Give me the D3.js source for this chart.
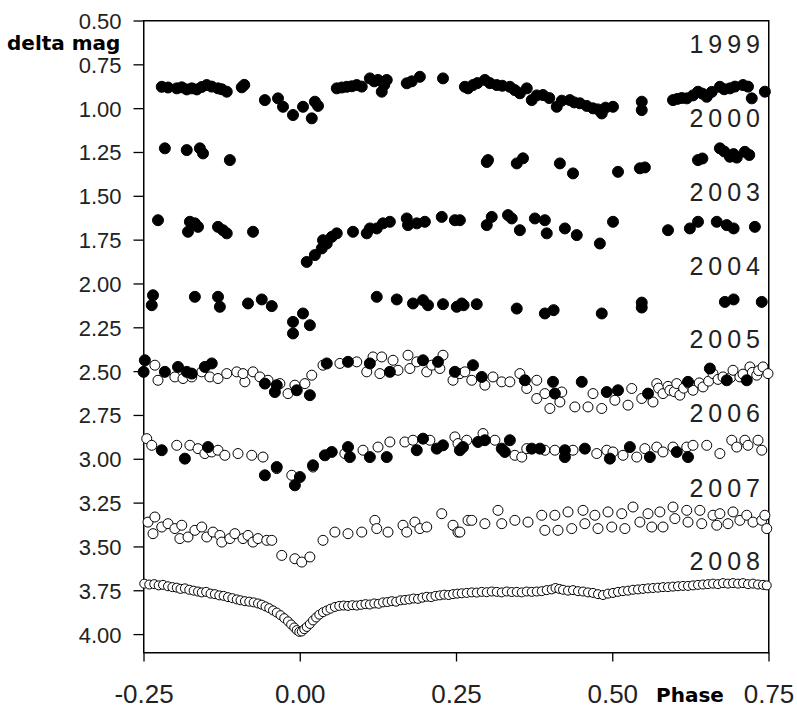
<!DOCTYPE html>
<html>
<head>
<meta charset="utf-8">
<script src="https://cdn.jsdelivr.net/npm/d3@7"></script>
<style>
  body { margin: 0; background: #fff; }
  svg { display: block; }
  .tick-y { font-family: "Liberation Sans", Arial, sans-serif; font-size: 22px; fill: #222; }
  .tick-x { font-family: "Liberation Sans", Arial, sans-serif; font-size: 26px; fill: #222; }
  .axis-title { font-family: "DejaVu Sans", Verdana, sans-serif; font-size: 20px; font-weight: bold; fill: #000; }
  .year { font-family: "Liberation Sans", Arial, sans-serif; font-size: 25px; letter-spacing: 5px; fill: #222; }
</style>
</head>
<body>
<div id="chart"></div>
<script>
// tick values and labels
let phaseTicks = [-0.25, 0, 0.25, 0.5, 0.75];
let magTicks = [0.5, 0.75, 1.0, 1.25, 1.5, 1.75, 2.0, 2.25, 2.5, 2.75, 3.0, 3.25, 3.5, 3.75, 4.0];
let years = ["1999", "2000", "2003", "2004", "2005", "2006", "2007", "2008"];
let yearLabelMag = [0.69, 1.11, 1.53, 1.955, 2.37, 2.795, 3.22, 3.64];

// [phase, delta mag]
let filled1999 = [[-0.220,0.881],[-0.210,0.885],[-0.196,0.890],[-0.188,0.884],[-0.180,0.896],[-0.172,0.890],[-0.164,0.896],[-0.156,0.882],
  [-0.148,0.871],[-0.140,0.880],[-0.130,0.890],[-0.124,0.895],[-0.116,0.909],[-0.092,0.884],[-0.088,0.870],[-0.055,0.957],[-0.034,0.947],
  [-0.026,0.995],[-0.010,1.042],[0.006,0.995],[0.020,1.061],[0.025,0.966],[0.030,0.990],[0.060,0.890],[0.068,0.885],[0.076,0.881],
  [0.084,0.878],[0.092,0.871],[0.100,0.880],[0.113,0.833],[0.120,0.850],[0.126,0.842],[0.132,0.909],[0.136,0.870],[0.140,0.842],
  [0.172,0.861],[0.180,0.850],[0.193,0.824],[0.230,0.833],[0.265,0.881],[0.270,0.890],[0.278,0.871],[0.285,0.860],[0.297,0.842],
  [0.305,0.860],[0.316,0.871],[0.325,0.875],[0.337,0.881],[0.345,0.900],[0.353,0.918],[0.364,0.890],[0.372,0.957],[0.380,0.930],
  [0.390,0.928],[0.400,0.945],[0.412,0.995],[0.420,0.960],[0.433,0.957],[0.440,0.970],[0.449,0.975],[0.460,0.990],[0.470,1.004],
  [0.478,1.010],[0.484,1.033],[0.490,1.000],[0.502,0.995],[0.548,0.966],[0.548,1.014],[0.598,0.957],[0.605,0.950],[0.612,0.945],
  [0.620,0.947],[0.630,0.930],[0.638,0.909],[0.645,0.920],[0.652,0.938],[0.660,0.910],[0.673,0.881],[0.680,0.895],[0.689,0.890],
  [0.697,0.880],[0.710,0.871],[0.718,0.880],[0.724,0.947],[0.745,0.909]];

let filled2000 = [[-0.215,1.232],[-0.180,1.242],[-0.159,1.232],[-0.154,1.261],[-0.111,1.299],[0.300,1.310],[0.302,1.299],[0.348,1.318],
  [0.358,1.289],[0.417,1.318],[0.438,1.375],[0.510,1.366],[0.545,1.346],[0.553,1.341],[0.638,1.299],[0.645,1.290],[0.673,1.232],
  [0.680,1.250],[0.689,1.280],[0.695,1.265],[0.700,1.285],[0.713,1.252],[0.720,1.270]];

let filled2003 = [[-0.226,1.642],[-0.178,1.708],[-0.175,1.651],[-0.167,1.660],[-0.162,1.680],[-0.130,1.680],[-0.122,1.699],[-0.116,1.717],
  [-0.074,1.708],[0.012,1.880],[0.025,1.841],[0.036,1.803],[0.038,1.756],[0.044,1.775],[0.052,1.737],[0.060,1.717],[0.086,1.708],
  [0.108,1.717],[0.113,1.689],[0.124,1.689],[0.134,1.660],[0.145,1.651],[0.172,1.632],[0.174,1.670],[0.188,1.660],[0.201,1.651],
  [0.228,1.623],[0.249,1.642],[0.257,1.642],[0.300,1.670],[0.308,1.623],[0.334,1.613],[0.340,1.632],[0.353,1.699],[0.377,1.632],
  [0.393,1.642],[0.396,1.717],[0.425,1.689],[0.444,1.727],[0.481,1.775],[0.502,1.651],[0.590,1.699],[0.625,1.689],[0.638,1.651],
  [0.668,1.651],[0.684,1.670],[0.695,1.689],[0.729,1.680]];

let filled2004 = [[-0.234,2.070],[-0.236,2.127],[-0.167,2.079],[-0.130,2.079],[-0.127,2.136],[-0.082,2.117],[-0.060,2.094],[-0.044,2.132],
  [-0.010,2.288],[-0.010,2.222],[0.006,2.174],[0.017,2.241],[0.124,2.079],[0.156,2.094],[0.182,2.117],[0.198,2.098],[0.206,2.127],
  [0.230,2.121],[0.252,2.136],[0.260,2.117],[0.263,2.127],[0.284,2.121],[0.348,2.146],[0.393,2.174],[0.407,2.155],[0.484,2.174],
  [0.548,2.112],[0.548,2.140],[0.681,2.108],[0.695,2.094],[0.740,2.108]];

let filled2005 = [[-0.247,2.441],[-0.249,2.507],[-0.215,2.507],[-0.194,2.479],[-0.180,2.507],[-0.172,2.517],[-0.151,2.479],[-0.140,2.459],
  [-0.055,2.574],[-0.039,2.622],[-0.036,2.583],[-0.004,2.612],[0.017,2.640],[0.044,2.459],[0.078,2.450],[0.113,2.459],[0.145,2.507],
  [0.198,2.441],[0.222,2.450],[0.249,2.507],[0.278,2.469],[0.292,2.536],[0.361,2.555],[0.406,2.564],[0.409,2.631],[0.452,2.564],
  [0.492,2.622],[0.510,2.612],[0.558,2.631],[0.622,2.564],[0.657,2.488],[0.684,2.555],[0.716,2.555]];

let open2005 = [[-0.231,2.469],[-0.226,2.555],[-0.199,2.536],[-0.186,2.545],[-0.172,2.536],[-0.156,2.507],[-0.143,2.536],[-0.130,2.545],
  [-0.116,2.517],[-0.100,2.507],[-0.087,2.564],[-0.090,2.517],[-0.074,2.507],[-0.063,2.536],[-0.050,2.555],[-0.031,2.574],[-0.018,2.631],
  [-0.007,2.583],[0.009,2.574],[0.020,2.526],[0.038,2.469],[0.065,2.459],[0.092,2.450],[0.108,2.507],[0.118,2.422],[0.129,2.517],
  [0.132,2.422],[0.150,2.441],[0.158,2.498],[0.174,2.412],[0.177,2.488],[0.188,2.450],[0.204,2.507],[0.212,2.469],[0.225,2.488],
  [0.230,2.412],[0.246,2.555],[0.257,2.517],[0.265,2.507],[0.276,2.555],[0.297,2.583],[0.310,2.536],[0.324,2.564],[0.337,2.564],
  [0.353,2.517],[0.364,2.602],[0.380,2.555],[0.380,2.659],[0.393,2.631],[0.401,2.716],[0.417,2.679],[0.420,2.622],[0.441,2.707],
  [0.462,2.707],[0.470,2.631],[0.484,2.716],[0.505,2.669],[0.526,2.697],[0.532,2.602],[0.548,2.659],[0.566,2.679],[0.572,2.574],
  [0.575,2.600],[0.582,2.631],[0.590,2.590],[0.593,2.612],[0.600,2.620],[0.604,2.574],[0.609,2.640],[0.615,2.600],[0.625,2.580],
  [0.630,2.612],[0.640,2.570],[0.646,2.593],[0.655,2.560],[0.662,2.517],[0.670,2.550],[0.678,2.536],[0.690,2.540],[0.694,2.498],
  [0.705,2.536],[0.710,2.520],[0.721,2.479],[0.725,2.510],[0.732,2.526],[0.735,2.500],[0.742,2.479],[0.750,2.517]];

let filled2006 = [[-0.220,2.954],[-0.183,3.002],[-0.146,2.936],[-0.055,3.097],[-0.036,3.050],[-0.007,3.154],[0.001,3.107],[0.022,3.040],
  [0.041,2.983],[0.052,2.964],[0.078,2.936],[0.081,2.993],[0.113,2.993],[0.140,2.993],[0.188,2.954],[0.198,2.888],[0.220,2.945],
  [0.230,2.926],[0.257,2.954],[0.262,2.936],[0.286,2.907],[0.297,2.897],[0.324,2.945],[0.337,2.897],[0.329,2.964],[0.372,2.945],
  [0.385,2.945],[0.425,2.954],[0.425,2.993],[0.457,2.945],[0.497,3.002],[0.529,2.936],[0.561,2.993],[0.604,2.964],[0.622,2.993]];

let open2006 = [[-0.244,2.888],[-0.236,2.926],[-0.196,2.926],[-0.175,2.926],[-0.162,2.945],[-0.151,2.973],[-0.140,2.964],[-0.130,2.954],
  [-0.119,2.983],[-0.098,2.973],[-0.076,2.983],[-0.058,2.993],[-0.036,3.059],[-0.012,3.097],[0.022,3.050],[0.073,2.973],[0.102,2.954],
  [0.126,2.936],[0.145,2.907],[0.169,2.907],[0.182,2.897],[0.209,2.897],[0.249,2.878],[0.254,2.916],[0.268,2.897],[0.294,2.859],
  [0.313,2.897],[0.345,2.983],[0.356,2.993],[0.364,2.945],[0.393,2.954],[0.409,2.954],[0.438,2.954],[0.476,2.973],[0.492,2.954],
  [0.502,2.964],[0.518,2.983],[0.540,2.993],[0.553,2.945],[0.572,2.936],[0.582,2.964],[0.598,2.936],[0.620,2.936],[0.630,2.926],
  [0.652,2.926],[0.673,2.973],[0.692,2.897],[0.700,2.936],[0.713,2.897],[0.718,2.926],[0.734,2.897],[0.740,2.954]];

let open2007 = [[-0.242,3.364],[-0.231,3.335],[-0.234,3.430],[-0.220,3.392],[-0.210,3.373],[-0.199,3.401],[-0.188,3.382],[-0.191,3.458],
  [-0.178,3.449],[-0.167,3.411],[-0.156,3.392],[-0.148,3.449],[-0.138,3.421],[-0.127,3.440],[-0.124,3.478],[-0.111,3.458],[-0.103,3.430],
  [-0.090,3.458],[-0.082,3.440],[-0.074,3.478],[-0.066,3.458],[-0.052,3.468],[-0.044,3.468],[-0.028,3.554],[-0.007,3.573],[0.004,3.592],
  [0.017,3.563],[0.038,3.468],[0.057,3.421],[0.078,3.430],[0.100,3.421],[0.121,3.354],[0.124,3.401],[0.142,3.421],[0.166,3.382],
  [0.172,3.421],[0.185,3.364],[0.193,3.401],[0.204,3.392],[0.228,3.316],[0.246,3.382],[0.254,3.421],[0.270,3.354],[0.257,3.421],
  [0.276,3.354],[0.297,3.373],[0.318,3.297],[0.324,3.373],[0.345,3.354],[0.366,3.364],[0.388,3.325],[0.393,3.411],[0.409,3.325],
  [0.414,3.411],[0.430,3.306],[0.436,3.401],[0.454,3.297],[0.457,3.373],[0.473,3.325],[0.478,3.401],[0.494,3.306],[0.500,3.392],
  [0.516,3.316],[0.521,3.401],[0.534,3.278],[0.545,3.364],[0.558,3.316],[0.564,3.392],[0.577,3.306],[0.582,3.392],[0.598,3.278],
  [0.601,3.344],[0.620,3.297],[0.622,3.364],[0.641,3.297],[0.644,3.373],[0.662,3.325],[0.668,3.382],[0.673,3.316],[0.686,3.373],
  [0.694,3.306],[0.705,3.354],[0.716,3.325],[0.726,3.364],[0.740,3.354],[0.745,3.325],[0.748,3.401]];

let open2008 = [[-0.248,3.715],[-0.240,3.720],[-0.232,3.718],[-0.225,3.725],[-0.218,3.722],[-0.210,3.730],[-0.203,3.735],[-0.196,3.738],
  [-0.190,3.745],[-0.183,3.742],[-0.176,3.750],[-0.169,3.755],[-0.162,3.760],[-0.156,3.765],[-0.149,3.762],[-0.142,3.772],[-0.135,3.775],
  [-0.128,3.782],[-0.121,3.785],[-0.114,3.792],[-0.107,3.798],[-0.100,3.805],[-0.094,3.810],[-0.087,3.815],[-0.080,3.818],[-0.073,3.822],
  [-0.066,3.828],[-0.060,3.835],[-0.054,3.845],[-0.048,3.855],[-0.042,3.868],[-0.036,3.880],[-0.030,3.895],[-0.024,3.912],[-0.018,3.930],
  [-0.013,3.948],[-0.008,3.965],[-0.004,3.980],[0.000,3.990],[0.004,3.988],[0.008,3.975],[0.012,3.962],[0.017,3.945],[0.022,3.925],
  [0.027,3.908],[0.032,3.892],[0.038,3.878],[0.044,3.868],[0.050,3.858],[0.057,3.848],[0.064,3.842],[0.071,3.840],[0.078,3.842],
  [0.085,3.838],[0.092,3.840],[0.099,3.836],[0.106,3.832],[0.113,3.834],[0.120,3.828],[0.127,3.830],[0.134,3.822],[0.141,3.820],
  [0.148,3.815],[0.155,3.818],[0.162,3.810],[0.169,3.808],[0.176,3.805],[0.183,3.800],[0.190,3.802],[0.197,3.795],[0.204,3.790],
  [0.211,3.792],[0.218,3.785],[0.225,3.782],[0.232,3.778],[0.239,3.780],[0.246,3.775],[0.253,3.772],[0.260,3.770],[0.268,3.768],
  [0.276,3.765],[0.284,3.766],[0.292,3.762],[0.300,3.764],[0.308,3.760],[0.316,3.762],[0.324,3.765],[0.332,3.760],[0.340,3.763],
  [0.348,3.762],[0.356,3.765],[0.364,3.760],[0.372,3.762],[0.380,3.760],[0.388,3.758],[0.396,3.752],[0.404,3.748],[0.410,3.740],
  [0.416,3.745],[0.422,3.750],[0.430,3.755],[0.438,3.752],[0.446,3.758],[0.454,3.760],[0.462,3.765],[0.470,3.768],[0.478,3.775],
  [0.486,3.780],[0.494,3.772],[0.502,3.768],[0.510,3.762],[0.518,3.758],[0.526,3.755],[0.534,3.750],[0.542,3.748],[0.550,3.745],
  [0.558,3.742],[0.566,3.740],[0.574,3.738],[0.582,3.735],[0.590,3.735],[0.598,3.732],[0.606,3.730],[0.614,3.728],[0.622,3.728],
  [0.630,3.725],[0.638,3.722],[0.646,3.720],[0.654,3.718],[0.662,3.715],[0.670,3.718],[0.678,3.712],[0.686,3.715],[0.694,3.712],
  [0.702,3.715],[0.710,3.712],[0.718,3.718],[0.726,3.715],[0.734,3.720],[0.742,3.722],[0.748,3.725]];

// draw order: open markers first, filled ones on top
let series = [
  {data: open2008, filled: false, r: 4.5},
  {data: open2007, filled: false, r: 5},
  {data: open2006, filled: false, r: 5},
  {data: open2005, filled: false, r: 5},
  {data: filled1999, filled: true, r: 5.5},
  {data: filled2000, filled: true, r: 5.5},
  {data: filled2003, filled: true, r: 5.5},
  {data: filled2004, filled: true, r: 5.5},
  {data: filled2005, filled: true, r: 5.5},
  {data: filled2006, filled: true, r: 5.5}
];

let width = 797, height = 707;
let plotLeft = 143, plotRight = 768, plotTop = 20, plotBottom = 652;
let frameW = 1.5;

let svg = d3.select("#chart").append("svg")
    .attr("width", width)
    .attr("height", height);

let x = d3.scaleLinear().domain([-0.25, 0.75]).range([plotLeft, plotRight]);
let y = d3.scaleLinear().domain([0.5, 4.105]).range([plotTop, plotBottom]);

// box round the plot: a black block with a white inner block
svg.append("rect")
    .attr("x", plotLeft)
    .attr("y", plotTop)
    .attr("width", plotRight - plotLeft + frameW)
    .attr("height", plotBottom - plotTop + frameW)
    .attr("fill", "#000");
svg.append("rect")
    .attr("x", plotLeft + frameW)
    .attr("y", plotTop + frameW)
    .attr("width", plotRight - plotLeft - frameW)
    .attr("height", plotBottom - plotTop - frameW)
    .attr("fill", "#fff");

// y axis
let yAxis = svg.append("g")
    .attr("transform", "translate(" + (plotLeft + 0.5) + ",0.5)")
    .call(d3.axisLeft(y).tickValues(magTicks).tickSize(10).tickPadding(12).tickFormat(d => d.toFixed(2)));
yAxis.select(".domain").remove();
yAxis.selectAll("text").attr("class", "tick-y").attr("fill", null).attr("dy", "0.36em");
yAxis.selectAll("line").attr("stroke-width", 1.3);

// x axis
let xAxis = svg.append("g")
    .attr("transform", "translate(0.5," + (plotBottom + 0.5) + ")")
    .call(d3.axisBottom(x).tickValues(phaseTicks).tickSize(9).tickPadding(0).tickFormat(d => d.toFixed(2)));
xAxis.select(".domain").remove();
xAxis.selectAll("text").attr("class", "tick-x").attr("fill", null).attr("y", 50).attr("dy", null);
xAxis.selectAll("line").attr("stroke-width", 1.3);

// axis titles
svg.append("text")
    .attr("class", "axis-title")
    .attr("x", 7)
    .attr("y", 50)
    .text("delta mag");

svg.append("text")
    .attr("class", "axis-title")
    .attr("x", 690)
    .attr("y", 702)
    .attr("text-anchor", "middle")
    .text("Phase");

// year labels
svg.selectAll("text.year")
    .data(years)
    .enter().append("text")
    .attr("class", "year")
    .attr("x", 765)
    .attr("y", (d, i) => y(yearLabelMag[i]))
    .attr("text-anchor", "end")
    .text(d => d);

// markers
series.forEach(function(s){
    svg.append("g")
        .selectAll("circle")
        .data(s.data)
        .enter().append("circle")
        .attr("cx", d => x(d[0]))
        .attr("cy", d => y(d[1]))
        .attr("r", s.r)
        .attr("fill", s.filled ? "#000" : "#fff")
        .attr("stroke", "#000")
        .attr("stroke-width", 1);
});
</script>
</body>
</html>
